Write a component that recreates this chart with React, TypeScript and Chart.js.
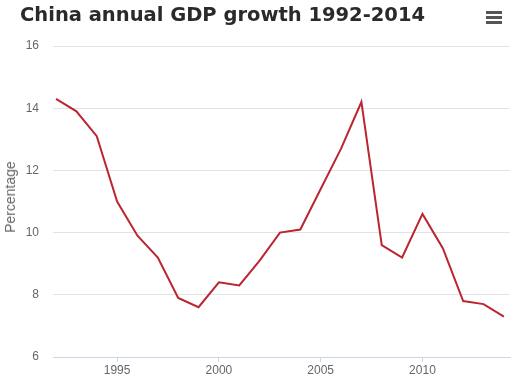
import React, { useEffect, useRef } from "react";
import { Chart, registerables } from "chart.js";

Chart.register(...registerables);

const years: number[] = [1992, 1993, 1994, 1995, 1996, 1997, 1998, 1999, 2000, 2001, 2002, 2003, 2004, 2005, 2006, 2007, 2008, 2009, 2010, 2011, 2012, 2013, 2014];
const growth: number[] = [14.3, 13.9, 13.1, 11.0, 9.9, 9.2, 7.9, 7.6, 8.4, 8.3, 9.1, 10.0, 10.1, 11.4, 12.7, 14.2, 9.6, 9.2, 10.6, 9.5, 7.8, 7.7, 7.3];
const xTicks: number[] = [1995, 2000, 2005, 2010];
const yTicks: number[] = [6, 8, 10, 12, 14, 16];
const titleText = "China annual GDP growth 1992-2014";
const yTitle = "Percentage";

export default function App() {
  const ref = useRef<HTMLCanvasElement | null>(null);
  useEffect(() => {
    if (!ref.current) return;
    const chart = new Chart(ref.current, {
      type: "line",
      data: {
        datasets: [
          {
            data: years.map((y, i) => ({ x: y, y: growth[i] })),
            borderColor: "#bb2530",
            borderWidth: 2,
            pointRadius: 0,
            tension: 0,
            fill: false,
          },
        ],
      },
      options: {
        animation: false,
        responsive: false,
        maintainAspectRatio: false,
        layout: { padding: { top: 46, right: 18, left: 0, bottom: 0 } },
        plugins: { legend: { display: false }, tooltip: { enabled: false }, title: { display: false } },
        scales: {
          x: {
            type: "linear",
            min: 1991.85,
            max: 2014.3,
            afterBuildTicks: (s: any) => {
              s.ticks = xTicks.map((v) => ({ value: v }));
            },
            afterFit: (s: any) => {
              s.height = 23;
            },
            grid: { drawOnChartArea: false, drawTicks: true, tickLength: 5, color: "#ccd6eb" },
            border: { display: true, color: "#ccd6eb", width: 1 },
            ticks: {
              color: "#666666",
              font: { family: "Liberation Sans, Arial, sans-serif", size: 12 },
              padding: 1,
              maxRotation: 0,
              callback: (v: any) => String(v),
            },
          },
          y: {
            min: 6,
            max: 16,
            afterBuildTicks: (s: any) => {
              s.ticks = yTicks.map((v) => ({ value: v }));
            },
            afterFit: (s: any) => {
              s.width = 53;
            },
            grid: { color: "#e3e3e3", drawTicks: false, lineWidth: 1 },
            border: { display: false },
            ticks: {
              color: "#666666",
              font: { family: "Liberation Sans, Arial, sans-serif", size: 12 },
              padding: 14,
            },
          },
        },
      },
    });
    return () => chart.destroy();
  }, []);

  return (
    <div style={{ position: "fixed", left: 0, top: 0, width: 528, height: 380, background: "#fff" }}>
      <canvas ref={ref} width={528} height={380} style={{ position: "absolute", left: 0, top: 0 }} />
      <div
        style={{
          position: "absolute",
          left: 20,
          top: 3,
          fontFamily: "DejaVu Sans, sans-serif",
          fontWeight: "bold",
          fontSize: 19.5,
          color: "#2a2a2a",
          whiteSpace: "nowrap",
        }}
      >
        {titleText}
      </div>
      <div
        style={{
          position: "absolute",
          left: 10,
          top: 197,
          transform: "translate(-50%, -50%) rotate(-90deg)",
          fontFamily: "Liberation Sans, Arial, sans-serif",
          fontSize: 14,
          color: "#666666",
          whiteSpace: "nowrap",
          lineHeight: "16px",
        }}
      >
        {yTitle}
      </div>
      <div style={{ position: "absolute", left: 486, top: 11, width: 16 }}>
        {[0, 1, 2].map((i) => (
          <div key={i} style={{ height: 2.5, background: "#555", marginBottom: 2.5 }} />
        ))}
      </div>
    </div>
  );
}
